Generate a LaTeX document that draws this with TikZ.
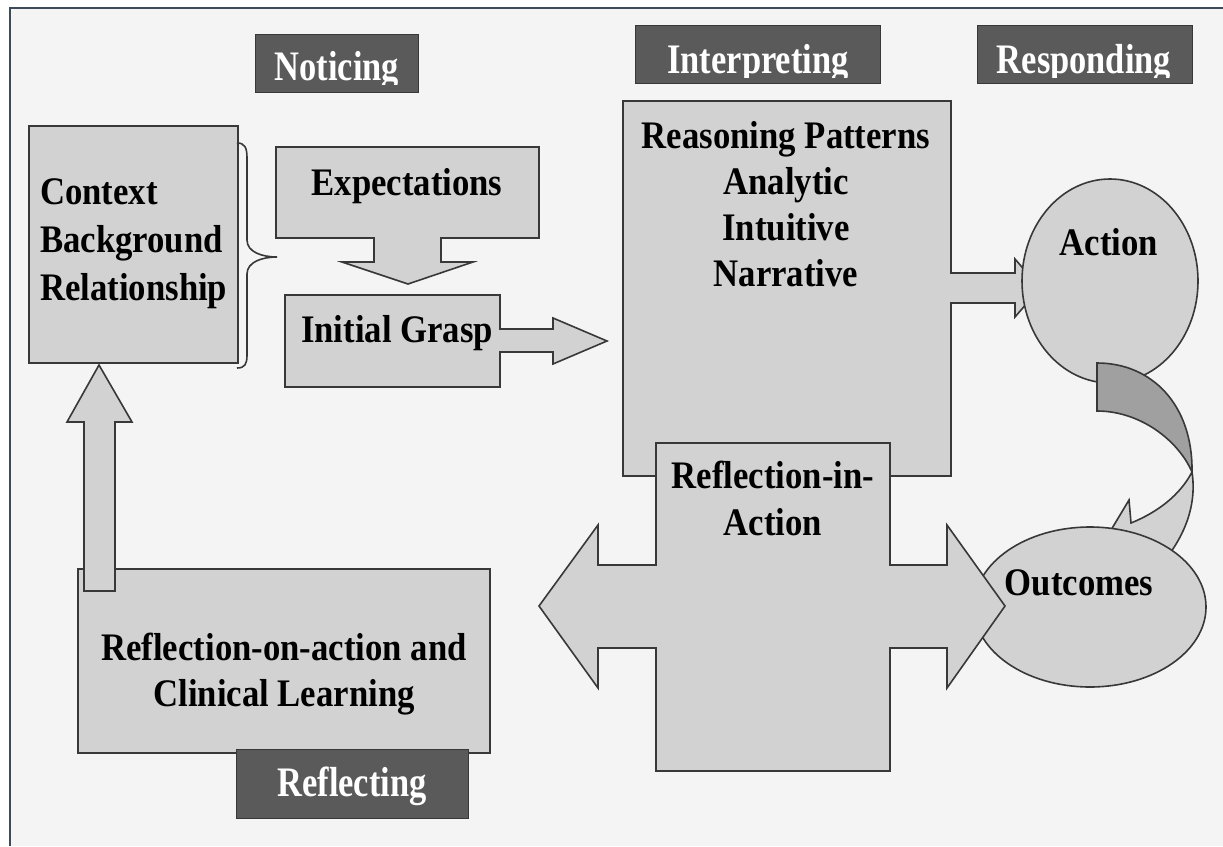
\documentclass[tikz,border=0pt]{standalone}
\usepackage{fontspec}
\usetikzlibrary{shapes.geometric}
\setmainfont{Liberation Serif}[FakeStretch=0.89]
\newfontfamily\lblfont{Liberation Serif}[FakeStretch=0.82]
\definecolor{bgc}{HTML}{F4F4F4}
\definecolor{boxfill}{HTML}{D2D2D2}
\definecolor{darkfill}{HTML}{A0A0A0}
\definecolor{labelfill}{HTML}{5A5A5A}
\definecolor{edgec}{HTML}{383838}
\definecolor{framec}{HTML}{3E4A58}
\tikzset{
  shp/.style={fill=boxfill, draw=edgec, line width=1.6pt, line join=miter},
  boxnode/.style={shp, rectangle, inner sep=0, anchor=north west},
  lblbox/.style={fill=labelfill, draw=edgec, line width=1.4pt, rectangle, inner sep=0, anchor=north west},
  txt/.style={anchor=base, inner sep=0, text=black, font=\fontsize{39}{46}\selectfont\bfseries},
  lbltxt/.style={anchor=base, inner sep=0, text=white, font=\lblfont\fontsize{42}{46}\selectfont\bfseries}
}
\begin{document}
\begin{tikzpicture}[x=1pt,y=-1pt]
\useasboundingbox (0,0) rectangle (1223,846);
\fill[white] (0,0) rectangle (1223,846);
\fill[bgc] (10,8) rectangle (1223,846);
\draw[framec, line width=2pt] (10,846) -- (10,8) -- (1223,8);

% Context box and brace
\node[boxnode, minimum width=209, minimum height=237] (context) at (28,125) {};
\draw[edgec, line width=1.6pt] (237,143) .. controls (245,143) and (247,148) .. (247,158)
  -- (247,240) .. controls (247,252) and (262,257) .. (277,257)
  .. controls (262,257) and (247,262) .. (247,274)
  -- (247,355) .. controls (247,364) and (245,368) .. (237,368);

% Expectations with down arrow
\path[shp] (276,147) -- (539,147) -- (539,238) -- (441,238) -- (441,262) -- (473,262)
  -- (408,284) -- (342,262) -- (374,262) -- (374,238) -- (276,238) -- cycle;
\coordinate (expect) at (407,192);

% Initial Grasp with right arrow
\path[shp] (285,295) -- (500,295) -- (500,329) -- (553,329) -- (553,318) -- (607,341)
  -- (553,364) -- (553,352) -- (500,352) -- (500,387) -- (285,387) -- cycle;
\coordinate (grasp) at (392,341);

% Reasoning box
\node[boxnode, minimum width=328, minimum height=375] (reason) at (622,100) {};

% Arrow to Action
\path[shp] (950,273) -- (1015,273) -- (1015,259) -- (1040,288) -- (1015,317) -- (1015,303) -- (950,303);
% Action circle
\node[shp, ellipse, minimum width=176, minimum height=204, inner sep=0] (action) at (1110,281) {};

% Curved arrow
\path[shp, fill=darkfill] (1097,363) .. controls (1152,363) and (1193,405) .. (1192,472)
  .. controls (1178,440) and (1140,411) .. (1097,411) -- cycle;
\path[shp] (1192,472) .. controls (1197,505) and (1185,537) .. (1160,566)
  -- (1102,545) -- (1129,500) -- (1131,523)
  .. controls (1158,512) and (1180,495) .. (1192,472) -- cycle;

% Outcomes ellipse
\node[shp, ellipse, minimum width=232, minimum height=160, inner sep=0] (outcomes) at (1090,607) {};

% Reflection-in-action cross
\path[shp] (656,443) -- (890,443) -- (890,565) -- (947,565) -- (947,525) -- (1005,606)
  -- (947,688) -- (947,648) -- (890,648) -- (890,771) -- (656,771) -- (656,648)
  -- (598,648) -- (598,688) -- (539,606) -- (598,525) -- (598,565) -- (656,565) -- cycle;

% Reflection-on-action box and up arrow
\node[boxnode, minimum width=412, minimum height=184] (reflon) at (77,568) {};
\path[shp] (84,591) -- (84,422) -- (67,422) -- (99,365) -- (132,422) -- (115,422) -- (115,591) -- cycle;

% Labels
\node[lblbox, minimum width=163, minimum height=58] (noticing) at (255,34) {};
\node[lblbox, minimum width=245, minimum height=58] (interpreting) at (635,25) {};
\node[lblbox, minimum width=215, minimum height=58] (responding) at (977,25) {};
\node[lblbox, minimum width=232, minimum height=69] (reflecting) at (236,749) {};
\begin{scope}
  \clip (255,34) rectangle (418,84);
  \node[lbltxt] (tnoticing) at (337,80) {Noticing};
\end{scope}
\begin{scope}
  \clip (635,25) rectangle (880,77);
  \node[lbltxt] (tinterpreting) at (758,73) {Interpreting};
\end{scope}
\begin{scope}
  \clip (977,25) rectangle (1192,77);
  \node[lbltxt] (tresponding) at (1084,73) {Responding};
\end{scope}
\node[lbltxt] (treflecting) at (352,796) {Reflecting};

% Texts
\node[txt, anchor=base west] (tcontext) at (40,204)
  {\fontsize{39}{48}\selectfont\begin{tabular}[t]{@{}l@{}}Context\\Background\\Relationship\end{tabular}};
\node[txt] (texpect) at (407,195) {Expectations};
\node[txt] (tgrasp) at (397,342) {Initial Grasp};
\node[txt] (treason) at (786,148)
  {\begin{tabular}[t]{@{}c@{}}Reasoning Patterns\\Analytic\\Intuitive\\Narrative\end{tabular}};
\node[txt] (taction) at (1109,255) {Action};
\node[txt] (toutcomes) at (1079,595) {Outcomes};
\node[txt] (treflin) at (773,488)
  {\fontsize{39}{47}\selectfont\begin{tabular}[t]{@{}c@{}}Reflection-in-\\Action\end{tabular}};
\node[txt] (treflon) at (284,660)
  {\begin{tabular}[t]{@{}c@{}}Reflection-on-action and\\Clinical Learning\end{tabular}};
\end{tikzpicture}
\end{document}
